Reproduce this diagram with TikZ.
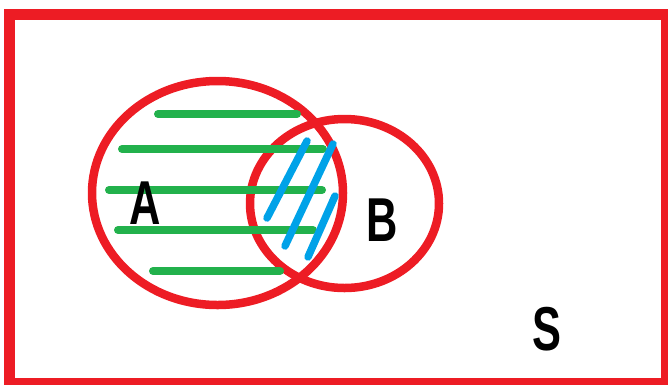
\documentclass[tikz,border=0pt]{standalone}
\usepackage{fontspec}
\setmainfont{Liberation Sans}
\definecolor{setred}{HTML}{ED1C24}
\definecolor{hatchgreen}{HTML}{22B14C}
\definecolor{hatchblue}{HTML}{00A2E8}
\begin{document}
\begin{tikzpicture}[x=1pt,y=-1pt,
  outline/.style={draw=setred,line width=8.5pt},
  greenhatch/.style={draw=hatchgreen,line width=8pt,line cap=round},
  bluehatch/.style={draw=hatchblue,line width=7.5pt,line cap=round},
  setlabel/.style={font=\fontsize{62}{62}\selectfont\bfseries,xscale=0.7,inner sep=0pt}]
\useasboundingbox (0,0) rectangle (668,384);
\clip (0,0) rectangle (668,384);
% sample space S
\draw[draw=setred,line width=11pt] (9.75,14) rectangle (666.5,383.5);
% the two sets
\draw[outline] (217.5,193) ellipse [x radius=125.5, y radius=112];
\draw[outline] (344.5,203.5) ellipse [x radius=94.5, y radius=84.5];
% shading of A
\coordinate (g1a) at (158,114); \coordinate (g1b) at (297,114);
\coordinate (g2a) at (122,149); \coordinate (g2b) at (323,149);
\coordinate (g3a) at (109,190); \coordinate (g3b) at (322,190);
\coordinate (g4a) at (118,230); \coordinate (g4b) at (313,230);
\coordinate (g5a) at (153,271); \coordinate (g5b) at (280,271);
\draw[greenhatch] (g1a) -- (g1b);
\draw[greenhatch] (g2a) -- (g2b);
\draw[greenhatch] (g3a) -- (g3b);
\draw[greenhatch] (g4a) -- (g4b);
\draw[greenhatch] (g5a) -- (g5b);
% shading of the intersection
\coordinate (b1a) at (307,141); \coordinate (b1b) at (267,218);
\coordinate (b2a) at (333,144); \coordinate (b2b) at (285,246);
\coordinate (b3a) at (335,196); \coordinate (b3b) at (308,257);
\draw[bluehatch] (b1a) -- (b1b);
\draw[bluehatch] (b2a) -- (b2b);
\draw[bluehatch] (b3a) -- (b3b);
% labels
\node[setlabel] (labA) at (145,203) {A};
\node[setlabel] (labB) at (382,220) {B};
\node[setlabel] (labS) at (547,329) {S};
\end{tikzpicture}
\end{document}
